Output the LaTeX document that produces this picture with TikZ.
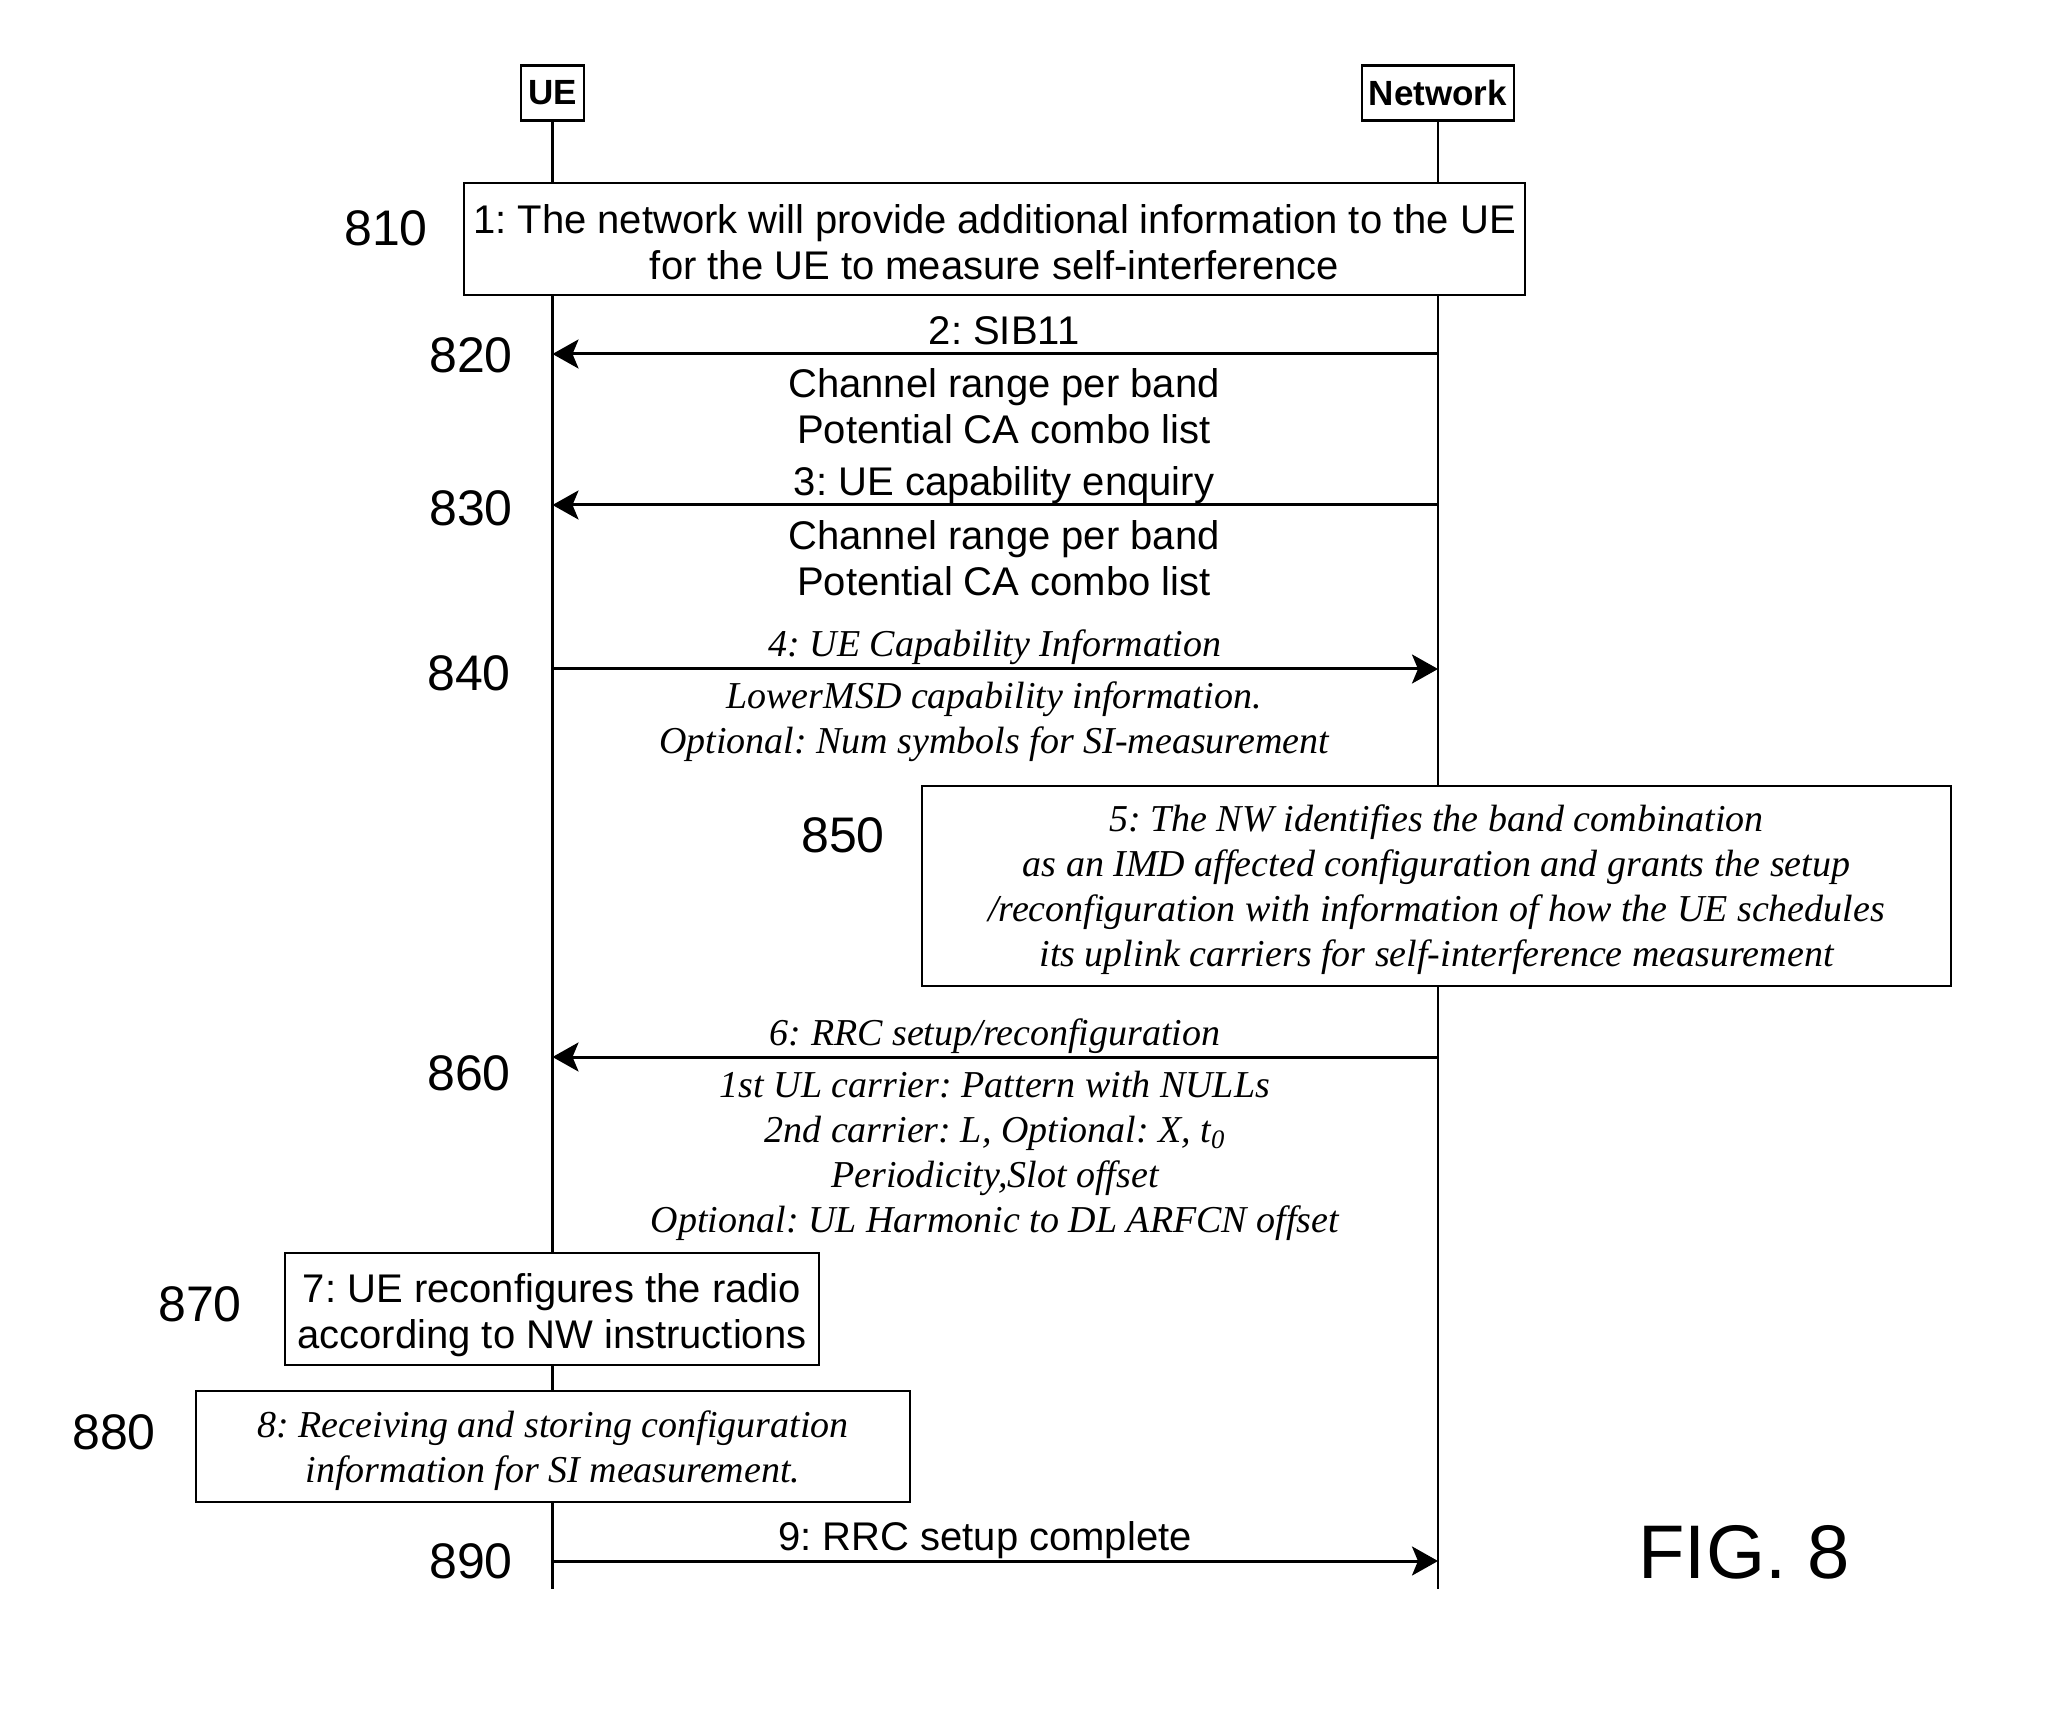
\documentclass[tikz,border=0pt]{standalone}
\usepackage{fontspec}
\setmainfont{Liberation Serif}
\newfontfamily\arialf{Liberation Sans}
\newfontfamily\tnrf{Liberation Serif}
\usetikzlibrary{arrows.meta}
\frenchspacing
\begin{document}
\begin{tikzpicture}[x=0.5pt,y=-0.5pt,
  sans/.style={font=\arialf\fontsize{20}{23}\selectfont, align=center, inner sep=0pt},
  ital/.style={font=\tnrf\itshape\fontsize{19}{22.5}\selectfont, align=center, inner sep=0pt},
  refnum/.style={font=\arialf\fontsize{25}{30}\selectfont, inner sep=0pt},
  actor/.style={draw, line width=1.3pt, fill=white, font=\arialf\bfseries\fontsize{17.5}{20}\selectfont, minimum height=27.5pt, inner sep=0pt},
  stepbox/.style={draw, line width=1.3pt, fill=white, inner sep=0pt, align=center},
  lifeline/.style={line width=1.2pt},
  msg/.style={line width=1.5pt, -{Stealth[length=13pt,width=14.5pt,inset=3pt]}}
]
\useasboundingbox[fill=white] (0,0) rectangle (2062,1732);

% actors
\node[actor, minimum width=31.5pt] (ue) at (552.5,93) {UE};
\node[actor, minimum width=76pt] (nw) at (1438,93) {Network};
\coordinate (ueend) at (552.5,1589);
\coordinate (nwend) at (1438,1589);
\draw[lifeline] (ue) -- (ueend);
\draw[lifeline] (nw) -- (nwend);

% 810
\node[stepbox, minimum width=530.5pt, minimum height=56pt] (s1) at (994.5,239) {};
\node[sans] (s1t) at (994.5,242)
  {1: The network will provide additional information to the UE\\for the UE to measure self-interference};
\node[refnum] (r810) at (386,228) {810};

% 820
\coordinate (n2) at (1438,354);
\coordinate (u2) at (552.5,354);
\draw[msg] (n2) -- (u2);
\node[sans] (t2) at (1004,331) {2: SIB11};
\node[sans] (t2b) at (1004,406) {Channel range per band\\Potential CA combo list};
\node[refnum] (r820) at (471,355) {820};

% 830
\coordinate (n3) at (1438,505);
\coordinate (u3) at (552.5,505);
\draw[msg] (n3) -- (u3);
\node[sans] (t3) at (1004,485) {3: UE capability enquiry};
\node[sans] (t3b) at (1004,558) {Channel range per band\\Potential CA combo list};
\node[refnum] (r830) at (471,508) {830};

% 840
\coordinate (u4) at (552.5,669);
\coordinate (n4) at (1438,669);
\draw[msg] (u4) -- (n4);
\node[ital] (t4) at (995,647) {4: UE Capability Information};
\node[ital] (t4b) at (994,722) {LowerMSD capability information.\\Optional: Num symbols for SI-measurement};
\node[refnum] (r840) at (469,673) {840};

% 850
\node[stepbox, minimum width=514.5pt, minimum height=100pt] (s5) at (1436.5,886) {};
\node[ital] (s5t) at (1436.5,890)
  {5: The NW identifies the band combination\\as an IMD affected configuration and grants the setup\\/reconfiguration with information of how the UE schedules\\its uplink carriers for self-interference measurement};
\node[refnum] (r850) at (843,835) {850};

% 860
\coordinate (n6) at (1438,1057);
\coordinate (u6) at (552.5,1057);
\draw[msg] (n6) -- (u6);
\node[ital] (t6) at (995,1036) {6: RRC setup/reconfiguration};
\node[ital] (t6b) at (995,1156) {1st UL carrier: Pattern with NULLs\\2nd carrier: L, Optional: X, t\textsubscript{0}\\Periodicity,Slot offset\\Optional: UL Harmonic to DL ARFCN offset};
\node[refnum] (r860) at (469,1073) {860};

% 870
\node[stepbox, minimum width=267pt, minimum height=56pt] (s7) at (552,1309) {};
\node[sans] (s7t) at (552,1315)
  {7: UE reconfigures the radio\\according to NW instructions};
\node[refnum] (r870) at (200,1304) {870};

% 880
\node[stepbox, minimum width=357pt, minimum height=55.5pt] (s8) at (553,1446.5) {};
\node[ital] (s8t) at (553,1450.5)
  {8: Receiving and storing configuration\\information for SI measurement.};
\node[refnum] (r880) at (114,1432) {880};

% 890
\coordinate (u9) at (552.5,1561);
\coordinate (n9) at (1438,1561);
\draw[msg] (u9) -- (n9);
\node[sans] (t9) at (985,1540) {9: RRC setup complete};
\node[refnum] (r890) at (471,1561) {890};

% figure label
\node[font=\arialf\fontsize{38}{44}\selectfont, inner sep=0pt] (fig) at (1744,1552) {FIG. 8};
\end{tikzpicture}
\end{document}
